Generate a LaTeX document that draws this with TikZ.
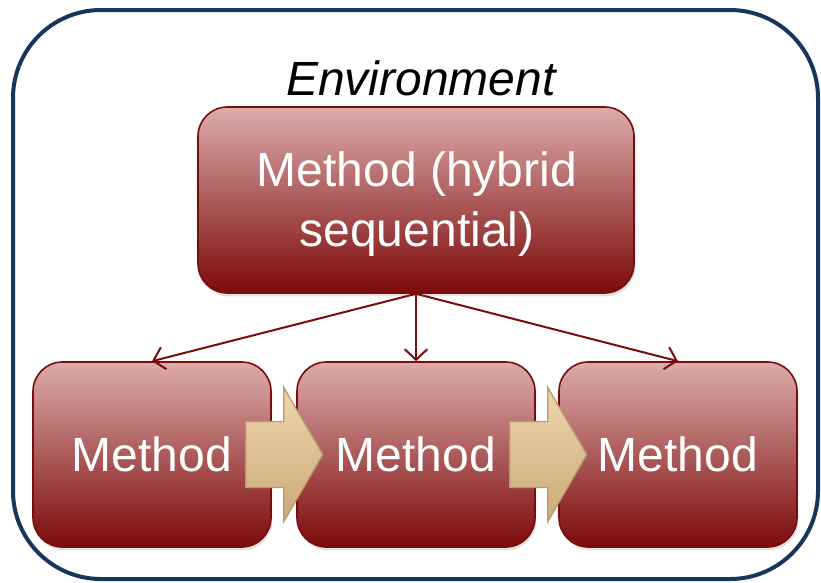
\documentclass[tikz,border=0pt]{standalone}
\usepackage{fontspec}
\setmainfont{Liberation Sans}
\usetikzlibrary{arrows.meta,shadows,calc}

\definecolor{envblue}{RGB}{23,54,93}
\definecolor{boxtop}{RGB}{220,172,171}
\definecolor{boxmid}{RGB}{180,116,116}
\definecolor{boxbot}{RGB}{124,10,10}
\definecolor{boxline}{RGB}{122,12,12}
\definecolor{tantop}{RGB}{240,214,172}
\definecolor{tanbot}{RGB}{202,170,122}
\definecolor{tanline}{RGB}{184,154,108}

\tikzset{
  x=0.75pt, y=-0.75pt,
  methodbox/.style={draw=boxline, line width=1.2pt, rounded corners=22pt,
    top color=boxtop, middle color=boxmid, bottom color=boxbot,
    text=white, align=center, inner sep=0pt,
    font=\fontsize{36}{45}\selectfont,
    drop shadow={shadow xshift=1pt, shadow yshift=-2.5pt, opacity=0.22}},
  conn/.style={draw=boxline, line width=1.5pt,
    -{Straight Barb[length=8pt,width=17pt,line width=1.5pt]}},
  flowarrow/.style={draw=tanline, line width=1pt,
    top color=tantop, bottom color=tanbot},
  envframe/.style={draw=envblue, line width=3pt, rounded corners=66pt}
}

\begin{document}
\begin{tikzpicture}
  \useasboundingbox (0,0) rectangle (821,582);

  % environment frame and its caption
  \draw[envframe] (13,10) rectangle (818,579);
  \node (env) at (421,78) {\fontsize{36}{43}\selectfont\itshape Environment};

  % the coordinating method and the three sub-methods
  \node[methodbox, minimum width=327pt, minimum height=139.5pt] (top)
    at (416,200) {};
  \node[text=white, align=center, font=\fontsize{36}{45}\selectfont] (toplabel)
    at ($(top.center)+(1,4)$) {Method (hybrid\\sequential)};
  \node[methodbox, minimum width=178.5pt, minimum height=138.75pt] (m1)
    at (152,454.5) {Method};
  \node[methodbox, minimum width=178.5pt, minimum height=138.75pt] (m2)
    at (416,454.5) {Method};
  \node[methodbox, minimum width=178.5pt, minimum height=138.75pt] (m3)
    at (678,454.5) {Method};

  % calls from the hybrid method to each sub-method
  \draw[conn] (top.south) -- (m1.north);
  \draw[conn] (top.south) -- (m2.north);
  \draw[conn] (top.south) -- (m3.north);

  % sequential hand-over arrows
  \foreach \a in {m1,m2}{
    \coordinate (s) at ($(\a.east)+(-26,0)$);
    \path[flowarrow] (s) ++(0,-33) -- ++(38,0) -- ++(0,-34) -- ++(39,67)
      -- ++(-39,67) -- ++(0,-34) -- ++(-38,0) -- cycle;
  }
\end{tikzpicture}
\end{document}
